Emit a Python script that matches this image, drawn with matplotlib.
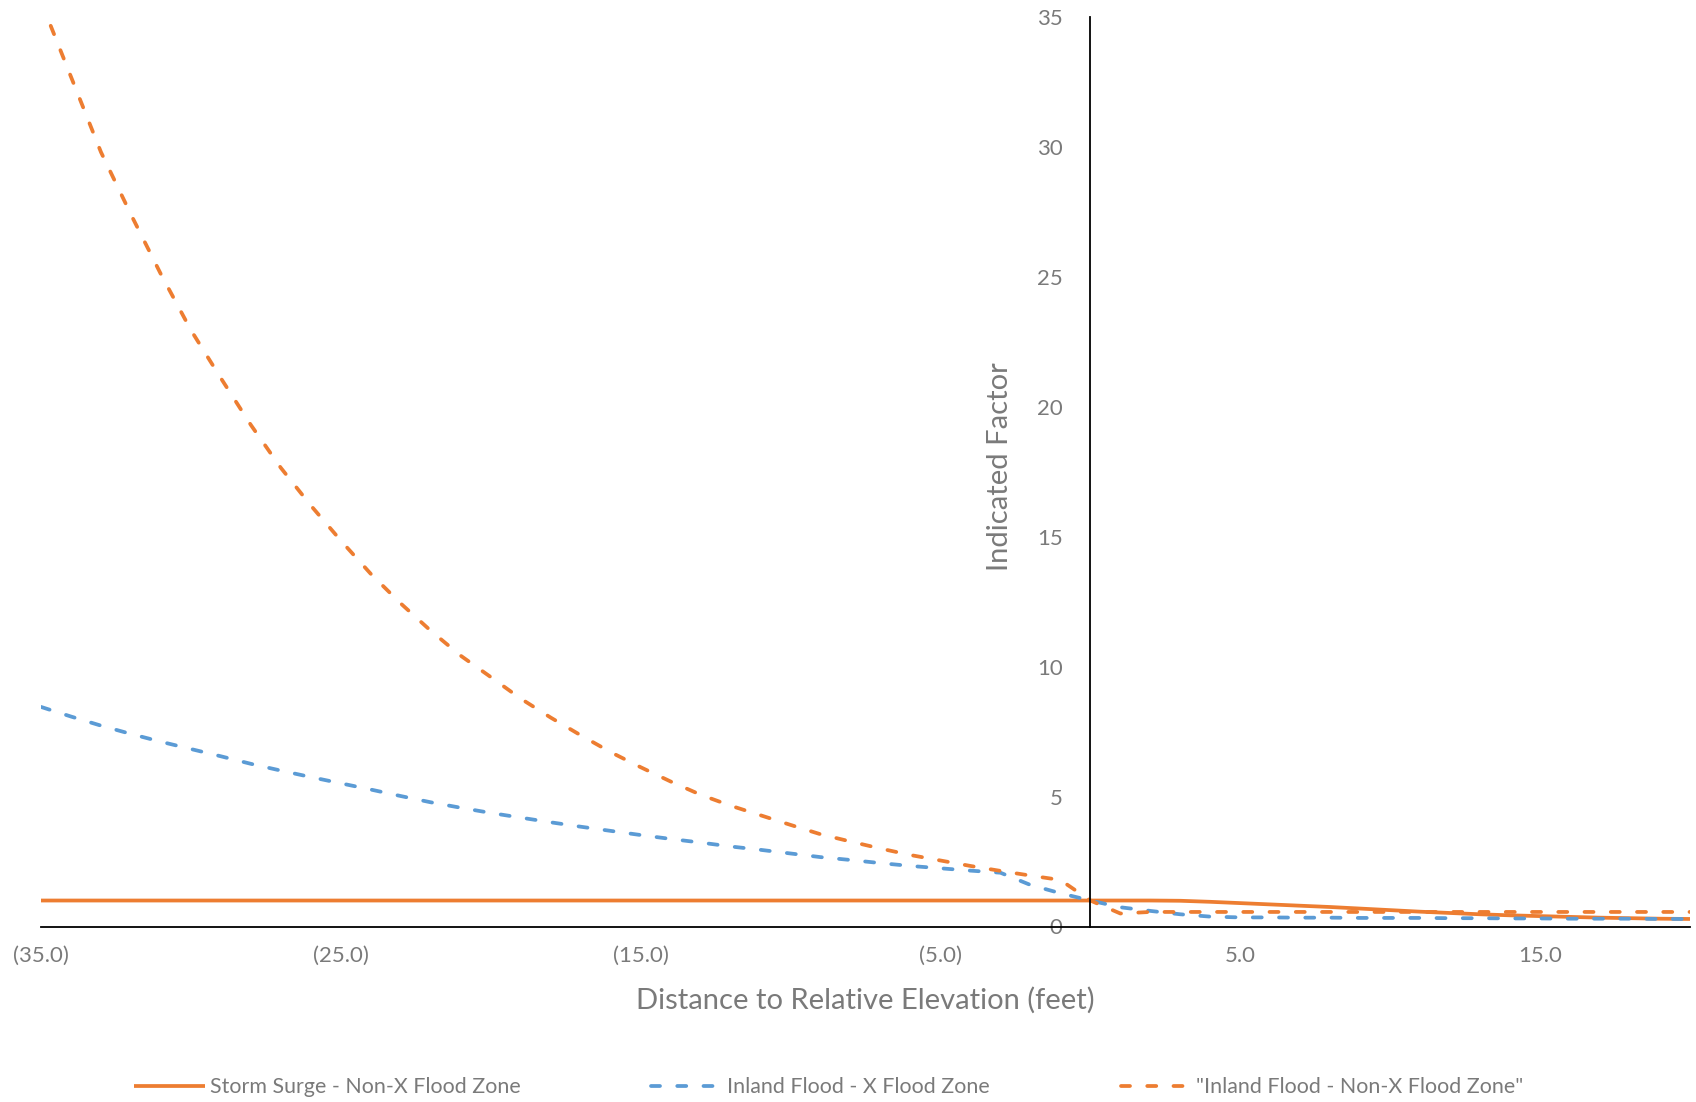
import matplotlib
matplotlib.use("Agg")
import matplotlib.pyplot as plt

# ---- data ----
distance = list(range(-35, 21))

storm_surge_nonx = [1.0] * 38 + [0.99, 0.95, 0.90, 0.85, 0.80, 0.75, 0.69, 0.63, 0.57,
                                 0.52, 0.47, 0.43, 0.40, 0.37, 0.34, 0.32, 0.30, 0.29]

inland_x = [8.45, 8.08, 7.73, 7.41, 7.11, 6.83, 6.55, 6.26, 6.00, 5.75,
            5.51, 5.27, 5.02, 4.78, 4.57, 4.37, 4.19, 4.01, 3.84, 3.68,
            3.52, 3.37, 3.23, 3.08, 2.95, 2.81, 2.67, 2.56, 2.44, 2.33,
            2.24, 2.15, 2.07, 1.60, 1.28, 1.00,
            0.74, 0.60, 0.47, 0.38, 0.35, 0.35, 0.34, 0.34, 0.33, 0.33,
            0.33, 0.32, 0.32, 0.31, 0.31, 0.30, 0.30, 0.30, 0.29, 0.29]

inland_nonx = [35.6, 32.7, 29.8, 27.4, 25.1, 22.95, 21.1, 19.3, 17.65, 16.2,
               14.85, 13.57, 12.43, 11.38, 10.42, 9.6, 8.77, 8.04, 7.36, 6.71,
               6.13, 5.58, 5.07, 4.65, 4.28, 3.91, 3.55, 3.27, 3.0, 2.75,
               2.54, 2.33, 2.14, 1.96, 1.79, 1.0,
               0.50] + [0.56] * 19

series_labels = ["Storm Surge - Non-X Flood Zone",
                 "Inland Flood - X Flood Zone",
                 '"Inland Flood - Non-X Flood Zone"']

x_ticks = [-35, -25, -15, -5, 5, 15]
x_tick_labels = ["(35.0)", "(25.0)", "(15.0)", "(5.0)", "5.0", "15.0"]
y_ticks = [0, 5, 10, 15, 20, 25, 30, 35]
y_tick_labels = ["0", "5", "10", "15", "20", "25", "30", "35"]

x_title = "Distance to Relative Elevation (feet)"
y_title = "Indicated Factor"

# ---- style ----
ORANGE = "#ED7D31"
BLUE = "#5B9BD5"
TXT = "#7a7a7a"
plt.rcParams["font.family"] = ["Lato", "DejaVu Sans"]

W, H = 1696, 1102
fig = plt.figure(figsize=(W / 100, H / 100), dpi=100)
ax = fig.add_axes([41 / W, 1 - 926.5 / H, (1690 - 41) / W, (926.5 - 17) / H])

lw = 2.7
dash = (2.4, 4.6)
ax.plot(distance, storm_surge_nonx, color=ORANGE, lw=lw, solid_capstyle="butt",
        label=series_labels[0])
ax.plot(distance, inland_x, color=BLUE, lw=lw, dashes=dash,
        dash_capstyle="round", label=series_labels[1])
ax.plot(distance, inland_nonx, color=ORANGE, lw=lw, dashes=dash,
        dash_capstyle="round", label=series_labels[2])

ax.set_xlim(-35, 20)
ax.set_ylim(0, 35)

for s in ["top", "right"]:
    ax.spines[s].set_visible(False)
ax.spines["left"].set_position(("data", 0))
ax.spines["left"].set_linewidth(1.3)
ax.spines["bottom"].set_linewidth(1.3)

ax.set_xticks(x_ticks)
ax.set_xticklabels(x_tick_labels)
ax.set_yticks(y_ticks)
ax.set_yticklabels(y_tick_labels)
ax.tick_params(axis="x", length=0, pad=14, labelsize=16, labelcolor=TXT)
ax.tick_params(axis="y", length=0, pad=20, labelsize=16, labelcolor=TXT)

fig.text(865 / W, 1 - 1000 / H, x_title, ha="center", va="center",
         fontsize=21, color=TXT)
fig.text(1000 / W, 1 - 467 / H, y_title, ha="center", va="center",
         rotation=90, fontsize=21, color=TXT)

handles, labels = ax.get_legend_handles_labels()
fig.legend(handles, labels, loc="center", bbox_to_anchor=(829 / W, 1 - 1087 / H),
           ncol=3, frameon=False, fontsize=15.4, labelcolor=TXT,
           handlelength=3.3, handletextpad=0.25, columnspacing=6.1)

fig.savefig("out.png", dpi=100)
